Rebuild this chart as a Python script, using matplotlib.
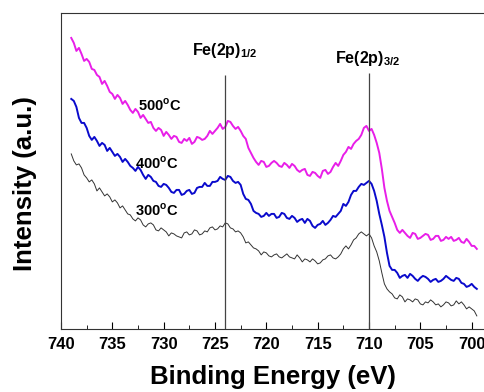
import numpy as np
import matplotlib
matplotlib.use("Agg")
import matplotlib.pyplot as plt
from matplotlib.ticker import MultipleLocator

plt.rcParams['font.family'] = 'Liberation Sans'
plt.rcParams['font.weight'] = 'bold'
plt.rcParams['mathtext.fontset'] = 'custom'
plt.rcParams['mathtext.rm'] = 'Liberation Sans:bold'
plt.rcParams['mathtext.bf'] = 'Liberation Sans:bold'

# binding energy grid (eV), 0.25 eV steps
energy = np.arange(739.0, 699.4, -0.25)

# Fe 2p spectra, arbitrary units (offset for display)
i_500 = [291, 286, 278, 281, 275, 268, 270, 267, 260, 259,
         254, 252, 245, 248, 243, 237, 235, 230, 234, 231,
         225, 228, 224, 219, 216, 220, 217, 211, 214, 210,
         206, 207, 201, 198, 201, 199, 193, 197, 194, 190,
         193, 192, 187, 186, 190, 188, 191, 185, 187, 192,
         191, 189, 190, 193, 198, 195, 198, 201, 205, 200,
         202, 208, 207, 203, 200, 202, 198, 193, 190, 181,
         176, 171, 167, 164, 168, 167, 162, 163, 166, 168,
         166, 163, 162, 166, 164, 161, 165, 163, 159, 157,
         159, 160, 154, 153, 157, 156, 153, 151, 158, 159,
         155, 157, 162, 166, 163, 168, 174, 177, 182, 180,
         185, 188, 190, 194, 201, 203, 198, 200, 194, 186,
         176, 160, 141, 128, 118, 112, 106, 99, 96, 99,
         96, 93, 91, 96, 95, 90, 91, 93, 95, 94,
         89, 90, 93, 93, 88, 89, 92, 90, 92, 88,
         89, 91, 87, 86, 90, 87, 83, 83, 80]

i_400 = [230, 228, 222, 211, 206, 206, 201, 193, 189, 192,
         188, 183, 186, 184, 178, 181, 177, 173, 175, 172,
         167, 170, 167, 163, 161, 158, 162, 159, 154, 150,
         154, 152, 148, 147, 143, 142, 145, 144, 141, 137,
         136, 139, 139, 134, 135, 138, 139, 135, 136, 141,
         142, 142, 146, 143, 143, 147, 147, 148, 152, 150,
         149, 153, 152, 148, 146, 147, 144, 135, 130, 129,
         125, 118, 116, 115, 112, 113, 116, 113, 115, 115,
         111, 112, 116, 115, 111, 110, 113, 111, 107, 109,
         110, 106, 110, 108, 103, 101, 104, 105, 108, 104,
         106, 109, 113, 112, 115, 118, 125, 123, 127, 134,
         138, 138, 142, 145, 144, 146, 148, 145, 138, 128,
         115, 104, 92, 76, 63, 59, 59, 56, 51, 53,
         54, 51, 55, 53, 50, 48, 51, 53, 52, 50,
         47, 49, 50, 47, 48, 50, 53, 51, 49, 48,
         51, 50, 46, 45, 42, 43, 45, 42, 40]

i_300 = [175, 168, 164, 165, 161, 154, 151, 147, 149, 145,
         138, 141, 137, 133, 135, 132, 127, 129, 126, 121,
         123, 119, 115, 114, 110, 108, 111, 109, 104, 102,
         105, 106, 104, 99, 98, 101, 99, 97, 93, 96,
         95, 93, 92, 91, 96, 97, 94, 95, 99, 98,
         94, 95, 98, 97, 101, 102, 99, 100, 103, 102,
         106, 105, 101, 100, 97, 98, 96, 92, 86, 87,
         84, 81, 80, 78, 74, 77, 76, 73, 72, 74,
         75, 72, 71, 73, 75, 72, 71, 70, 74, 71,
         67, 70, 69, 67, 70, 68, 65, 66, 69, 70,
         73, 74, 71, 70, 72, 75, 80, 83, 80, 84,
         89, 91, 95, 97, 95, 93, 95, 91, 83, 77,
         68, 56, 45, 40, 37, 35, 31, 30, 34, 32,
         27, 30, 29, 27, 30, 29, 25, 24, 27, 26,
         29, 27, 24, 25, 22, 24, 27, 26, 23, 24,
         28, 25, 27, 24, 20, 22, 20, 18, 13]

peak_pos = [724.0, 710.0]
peak_top = [254, 256]
peak_names = [r'Fe(2p)$_{\mathrm{1/2}}$', r'Fe(2p)$_{\mathrm{3/2}}$']
peak_text_xy = [(727.2, 278), (713.3, 270)]

temp_labels = [r'500$^{\mathrm{o}}$C', r'400$^{\mathrm{o}}$C', r'300$^{\mathrm{o}}$C']
temp_text_xy = [(732.5, 224), (732.8, 166), (732.8, 119)]

fig = plt.figure(figsize=(4.84, 3.92), dpi=100)
ax = fig.add_axes([0.126, 0.161, 0.874, 0.806])

ax.plot(energy, i_500, color='#E81EE8', lw=1.4)
ax.plot(energy, i_400, color='#0A0ACC', lw=1.4)
ax.plot(energy, i_300, color='#333333', lw=0.7)

ax.vlines(peak_pos, 0, peak_top, color='#444444', lw=0.9)

for name, (x, y) in zip(peak_names, peak_text_xy):
    ax.text(x, y, name, fontsize=11.5, fontweight='bold', va='center', ha='left')
for name, (x, y) in zip(temp_labels, temp_text_xy):
    ax.text(x, y, name, fontsize=10.5, fontweight='bold', va='center', ha='left')

ax.set_xlim(740, 698.8)
ax.set_ylim(0, 316)
ax.xaxis.set_major_locator(MultipleLocator(5))
ax.xaxis.set_minor_locator(MultipleLocator(2.5))
ax.tick_params(axis='x', which='major', direction='in', length=5, labelsize=12, pad=6)
ax.tick_params(axis='x', which='minor', direction='in', length=3)
ax.set_yticks([])
ax.spines['right'].set_visible(False)
for s in ['left', 'top', 'bottom']:
    ax.spines[s].set_color('#333333')
for lbl in ax.get_xticklabels():
    lbl.set_fontweight('bold')

ax.set_xlabel('Binding Energy (eV)', fontsize=18.5, fontweight='bold', labelpad=9)
ax.set_ylabel('Intensity (a.u.)', fontsize=18.5, fontweight='bold')
ax.yaxis.set_label_coords(-0.056, 0.46)

fig.savefig('out.png', dpi=100)
